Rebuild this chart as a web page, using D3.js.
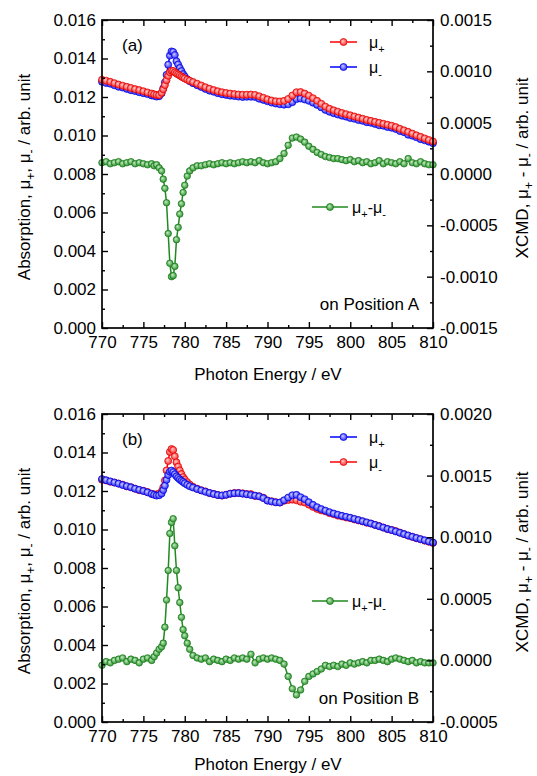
<!DOCTYPE html>
<html>
<head>
<meta charset="utf-8">
<script src="https://cdn.jsdelivr.net/npm/d3@7"></script>
<style>
  body { margin: 0; background: #fff; }
  text { font-family: Arial, "Liberation Sans", sans-serif; }
</style>
</head>
<body>
<div id="chart"></div>
<script>
// photon energy (eV), shared by both panels
var energy = [
  770, 770.5, 771, 771.5, 772, 772.5, 773, 773.5, 774, 774.5,
  775, 775.5, 776, 776.3, 776.6, 776.9, 777.2, 777.4, 777.6, 777.8,
  778, 778.2, 778.4, 778.6, 778.8, 779, 779.2, 779.4, 779.6, 779.8,
  780, 780.3, 780.6, 781, 781.5, 782, 782.5, 783, 783.5, 784,
  784.5, 785, 785.5, 786, 786.5, 787, 787.5, 788, 788.5, 789,
  789.5, 790, 790.5, 791, 791.5, 792, 792.5, 793, 793.5, 794,
  794.5, 795, 795.5, 796, 796.5, 797, 797.5, 798, 798.5, 799,
  799.5, 800, 800.5, 801, 801.5, 802, 802.5, 803, 803.5, 804,
  804.5, 805, 805.5, 806, 806.5, 807, 807.5, 808, 808.5, 809,
  809.5, 810
];

// panel (a) - position A
var muPlusA = [
  .01290, .01285, .01279, .01272, .01265, .01259, .01253, .01247, .01241, .01236,
  .01230, .01224, .01218, .01214, .01211, .01210, .01222, .01240, .01262, .01287,
  .01310, .01328, .01337, .01335, .01328, .01322, .01317, .01312, .01306, .01301,
  .01296, .01290, .01285, .01278, .01269, .01260, .01251, .01243, .01236, .01230,
  .01225, .01221, .01218, .01215, .01213, .01212, .01212, .01213, .01211, .01204,
  .01196, .01188, .01182, .01178, .01177, .01180, .01190, .01208, .01225, .01226,
  .01218, .01207, .01194, .01180, .01165, .01150, .01139, .01131, .01124, .01117,
  .01111, .01105, .01099, .01093, .01087, .01081, .01076, .01071, .01066, .01061,
  .01056, .01051, .01044, .01035, .01027, .01019, .01010, .01001, .00993, .00985,
  .00977, .00969
];
var muMinusA = [
  .01279, .01273, .01269, .01261, .01253, .01249, .01242, .01235, .01231, .01225,
  .01220, .01215, .01208, .01206, .01202, .01204, .01219, .01245, .01276, .01315,
  .01368, .01415, .01437, .01434, .01418, .01386, .01369, .01351, .01335, .01319,
  .01307, .01292, .01282, .01272, .01261, .01252, .01242, .01233, .01227, .01220,
  .01214, .01211, .01207, .01205, .01202, .01200, .01201, .01201, .01200, .01191,
  .01185, .01178, .01171, .01166, .01162, .01160, .01162, .01173, .01189, .01192,
  .01187, .01180, .01170, .01159, .01146, .01133, .01123, .01116, .01109, .01103,
  .01098, .01091, .01087, .01080, .01076, .01069, .01066, .01060, .01053, .01051,
  .01044, .01040, .01034, .01023, .01017, .01004, .00999, .00991, .00981, .00975,
  .00968, .00960
];
var xmcdA = [
  .00011, .00012, .00010, .00011, .00012, .00010, .00011, .00012, .00010, .00011,
  .00010, .00009, .00010, .00008, .00009, .00006, .00003, -.00005, -.00014, -.00028,
  -.00058, -.00087, -.00100, -.00099, -.00090, -.00064, -.00052, -.00039, -.00029, -.00018,
  -.00011, -.00002, .00003, .00006, .00008, .00008, .00009, .00010, .00009, .00010,
  .00011, .00010, .00011, .00010, .00011, .00012, .00011, .00012, .00011, .00013,
  .00011, .00010, .00011, .00012, .00015, .00020, .00028, .00035, .00036, .00034,
  .00031, .00027, .00024, .00021, .00019, .00017, .00016, .00015, .00015, .00014,
  .00013, .00014, .00012, .00013, .00011, .00012, .00010, .00011, .00013, .00010,
  .00012, .00011, .00010, .00012, .00010, .00015, .00011, .00010, .00012, .00010,
  .00009, .00009
];

// panel (b) - position B
var muPlusB = [
  .01262, .01256, .01250, .01244, .01238, .01231, .01225, .01219, .01212, .01206,
  .01200, .01193, .01185, .01180, .01176, .01178, .01187, .01205, .01228, .01258,
  .01283, .01300, .01306, .01298, .01287, .01276, .01268, .01260, .01253, .01247,
  .01240, .01232, .01225, .01218, .01210, .01203, .01196, .01190, .01184, .01179,
  .01177, .01180, .01186, .01188, .01189, .01186, .01183, .01179, .01176, .01172,
  .01163, .01150, .01145, .01141, .01140, .01152, .01166, .01178, .01180, .01168,
  .01157, .01142, .01128, .01116, .01106, .01098, .01090, .01083, .01077, .01071,
  .01066, .01061, .01055, .01049, .01043, .01037, .01031, .01024, .01017, .01010,
  .01003, .00997, .00990, .00983, .00976, .00969, .00962, .00956, .00950, .00944,
  .00938, .00932
];
var muMinusB = [
  .01258, .01255, .01248, .01244, .01239, .01233, .01224, .01220, .01212, .01204,
  .01201, .01195, .01185, .01183, .01182, .01187, .01198, .01219, .01255, .01307,
  .01356, .01403, .01418, .01413, .01380, .01349, .01327, .01307, .01288, .01272,
  .01260, .01246, .01234, .01222, .01212, .01204, .01198, .01189, .01185, .01179,
  .01176, .01181, .01186, .01190, .01190, .01188, .01184, .01184, .01174, .01173,
  .01165, .01151, .01147, .01142, .01140, .01149, .01153, .01155, .01152, .01144,
  .01140, .01129, .01117, .01107, .01099, .01094, .01085, .01079, .01072, .01068,
  .01062, .01059, .01052, .01047, .01042, .01035, .01031, .01024, .01018, .01010,
  .01002, .00998, .00992, .00984, .00976, .00968, .00962, .00954, .00949, .00942,
  .00936, .00930
];
var xmcdB = [
  -.00004, -.00001, -.00002, .00000, .00001, .00002, -.00001, .00001, .00000, -.00002,
  .00001, .00002, .00000, .00003, .00006, .00009, .00011, .00014, .00027, .00049,
  .00073, .00103, .00112, .00115, .00093, .00073, .00059, .00047, .00035, .00025,
  .00020, .00014, .00009, .00004, .00002, .00001, .00002, -.00001, .00001, .00000,
  -.00001, .00001, .00000, .00002, .00001, .00002, .00001, .00005, -.00002, .00001,
  .00002, .00001, .00002, .00001, .00000, -.00003, -.00013, -.00023, -.00028, -.00024,
  -.00017, -.00013, -.00011, -.00009, -.00007, -.00004, -.00005, -.00004, -.00005, -.00003,
  -.00004, -.00002, -.00003, -.00002, -.00001, -.00002, .00000, .00000, .00001, .00000,
  -.00001, .00001, .00002, .00001, .00000, -.00001, .00000, -.00002, -.00001, -.00002,
  -.00002, -.00002
];

// ticks
var xTicks = [770, 775, 780, 785, 790, 795, 800, 805, 810];
var xMinor = [772.5, 777.5, 782.5, 787.5, 792.5, 797.5, 802.5, 807.5];
var absTicks = [0, 0.002, 0.004, 0.006, 0.008, 0.010, 0.012, 0.014, 0.016];
var absMinor = [0.001, 0.003, 0.005, 0.007, 0.009, 0.011, 0.013, 0.015];
var xmcdTicksA = [-0.0015, -0.001, -0.0005, 0, 0.0005, 0.001, 0.0015];
var xmcdMinorA = [-0.00125, -0.00075, -0.00025, 0.00025, 0.00075, 0.00125];
var xmcdTicksB = [-0.0005, 0, 0.0005, 0.001, 0.0015, 0.002];
var xmcdMinorB = [-0.00025, 0.00025, 0.00075, 0.00125, 0.00175];

var FONT = "Arial, 'Liberation Sans', sans-serif";
var RED = "#ff0000", BLUE = "#0000ff", GREEN = "#1f8a1f";

var svg = d3.select("#chart").append("svg")
    .attr("width", 537)
    .attr("height", 776);

// shiny ball markers
var defs = svg.append("defs");
function ball(id, light, base) {
  var gr = defs.append("radialGradient").attr("id", id)
      .attr("cx", "50%").attr("cy", "50%").attr("r", "55%")
      .attr("fx", "38%").attr("fy", "35%");
  gr.append("stop").attr("offset", "0%").attr("stop-color", light);
  gr.append("stop").attr("offset", "100%").attr("stop-color", base);
}
ball("gRed", "#ffd0d0", "#ff2020");
ball("gBlue", "#d0d0ff", "#2020ff");
ball("gGreen", "#c8f0c8", "#228b22");
var fills = {};
fills[RED] = "url(#gRed)"; fills[BLUE] = "url(#gBlue)"; fills[GREEN] = "url(#gGreen)";

var x = d3.scaleLinear().domain([770, 810]).range([102, 433]);

// write text with subscripts, parts = [[text, isSub], ...]
function rich(t, parts, subSize) {
  var shifted = false;
  parts.forEach(function(p) {
    var ts = t.append("tspan").text(p[0]);
    if (p[1] && !shifted) { ts.attr("dy", 5).attr("font-size", subSize); shifted = true; }
    else if (p[1]) { ts.attr("font-size", subSize); }
    else if (shifted) { ts.attr("dy", -5); shifted = false; }
  });
}

function series(g, vals, y, color, r) {
  var pts = d3.zip(energy, vals);
  g.append("path")
      .datum(pts)
      .attr("fill", "none")
      .attr("stroke", color)
      .attr("stroke-width", 1.5)
      .attr("d", d3.line().x(function(d) { return x(d[0]); }).y(function(d) { return y(d[1]); }));
  g.selectAll(null)
      .data(pts)
    .enter().append("circle")
      .attr("cx", function(d) { return x(d[0]); })
      .attr("cy", function(d) { return y(d[1]); })
      .attr("r", r)
      .attr("fill", fills[color])
      .attr("stroke", d3.color(color).darker(0.4))
      .attr("stroke-width", 0.7);
}

function legendItem(g, x1, x2, y, color, parts) {
  g.append("line").attr("x1", x1).attr("x2", x2).attr("y1", y).attr("y2", y)
      .attr("stroke", color).attr("stroke-width", 1.5);
  g.append("circle").attr("cx", (x1 + x2) / 2).attr("cy", y).attr("r", 3.5)
      .attr("fill", fills[color]).attr("stroke", d3.color(color).darker(0.4)).attr("stroke-width", 0.7);
  var t = g.append("text").attr("x", x2 + 12).attr("y", y + 6).attr("font-size", 16);
  rich(t, parts, 11);
}

function styleAxis(a) {
  a.attr("font-size", 17).attr("font-family", FONT);
  a.select(".domain").remove();
  a.selectAll(".tick line").attr("stroke-width", 1.4);
}

function panel(p) {
  var yL = d3.scaleLinear().domain([0, 0.016]).range([p.bottom, p.top]);
  var yR = d3.scaleLinear().domain(p.rDomain).range([p.bottom, p.top]);
  var g = svg.append("g");

  // data: mu- under, mu+ on top, then xmcd
  series(g, p.minus, yL, p.minusColor, 3.5);
  series(g, p.plus, yL, p.plusColor, 3.5);
  series(g, p.xmcd, yR, GREEN, 3.3);

  // axes, ticks pointing inward
  var b = g.append("g").attr("transform", "translate(0," + p.bottom + ")")
      .call(d3.axisBottom(x).tickValues(xTicks).tickSizeInner(-6).tickSizeOuter(0).tickPadding(8).tickFormat(d3.format("d")));
  styleAxis(b);
  styleAxis(g.append("g").attr("transform", "translate(0," + p.bottom + ")")
      .call(d3.axisBottom(x).tickValues(xMinor).tickSizeInner(-3).tickSizeOuter(0).tickFormat("")));
  styleAxis(g.append("g").attr("transform", "translate(0," + p.top + ")")
      .call(d3.axisTop(x).tickValues(xTicks).tickSizeInner(-6).tickSizeOuter(0).tickFormat("")));
  styleAxis(g.append("g").attr("transform", "translate(0," + p.top + ")")
      .call(d3.axisTop(x).tickValues(xMinor).tickSizeInner(-3).tickSizeOuter(0).tickFormat("")));

  styleAxis(g.append("g").attr("transform", "translate(102,0)")
      .call(d3.axisLeft(yL).tickValues(absTicks).tickSizeInner(-6).tickSizeOuter(0).tickPadding(6)
        .tickFormat(function(d) { return d.toFixed(3); })));
  styleAxis(g.append("g").attr("transform", "translate(102,0)")
      .call(d3.axisLeft(yL).tickValues(absMinor).tickSizeInner(-3).tickSizeOuter(0).tickFormat("")));

  styleAxis(g.append("g").attr("transform", "translate(433,0)")
      .call(d3.axisRight(yR).tickValues(p.rTicks).tickSizeInner(-6).tickSizeOuter(0).tickPadding(7)
        .tickFormat(function(d) { return d.toFixed(4); })));
  styleAxis(g.append("g").attr("transform", "translate(433,0)")
      .call(d3.axisRight(yR).tickValues(p.rMinor).tickSizeInner(-3).tickSizeOuter(0).tickFormat("")));

  g.append("rect")
      .attr("x", 102).attr("y", p.top)
      .attr("width", 331).attr("height", p.bottom - p.top)
      .attr("fill", "none").attr("stroke", "#000").attr("stroke-width", 1.7);

  // titles
  g.append("text").attr("x", 268).attr("y", p.bottom + p.titleGap)
      .attr("text-anchor", "middle").attr("font-size", 17)
      .text("Photon Energy / eV");
  var mid = (p.top + p.bottom) / 2;
  var tl = g.append("text").attr("transform", "translate(30," + (mid + 3) + ") rotate(-90)")
      .attr("text-anchor", "middle").attr("font-size", 17);
  rich(tl, [["Absorption, \u03bc", 0], ["+", 1], [", \u03bc", 0], ["-", 1], [" / arb. unit", 0]], 12);
  var tr = g.append("text").attr("transform", "translate(528," + (mid - 6) + ") rotate(-90)")
      .attr("text-anchor", "middle").attr("font-size", 17);
  rich(tr, [["XCMD, \u03bc", 0], ["+", 1], [" - \u03bc", 0], ["-", 1], [" / arb. unit", 0]], 12);

  g.append("text").attr("x", 122).attr("y", p.top + 31).attr("font-size", 17).text(p.label);
  g.append("text").attr("x", 419).attr("y", p.bottom - 18)
      .attr("text-anchor", "end").attr("font-size", 17).text(p.position);

  // legend
  legendItem(g, 330, 357, p.top + p.leg1, p.legColors[0], [["\u03bc", 0], ["+", 1]]);
  legendItem(g, 330, 357, p.top + p.leg2, p.legColors[1], [["\u03bc", 0], ["-", 1]]);
  var lg = g.append("g");
  lg.append("line").attr("x1", 312).attr("x2", 348).attr("y1", p.top + p.leg3).attr("y2", p.top + p.leg3)
      .attr("stroke", GREEN).attr("stroke-width", 1.5);
  lg.append("circle").attr("cx", 330).attr("cy", p.top + p.leg3).attr("r", 3.5)
      .attr("fill", fills[GREEN]).attr("stroke", d3.color(GREEN).darker(0.4)).attr("stroke-width", 0.7);
  var t3 = lg.append("text").attr("x", 352).attr("y", p.top + p.leg3 + 6).attr("font-size", 16);
  rich(t3, [["\u03bc", 0], ["+", 1], ["-\u03bc", 0], ["-", 1]], 11);
}

panel({
  top: 20, bottom: 328, titleGap: 52,
  plus: muPlusA, minus: muMinusA, xmcd: xmcdA,
  plusColor: RED, minusColor: BLUE,
  rDomain: [-0.0015, 0.0015], rTicks: xmcdTicksA, rMinor: xmcdMinorA,
  label: "(a)", position: "on Position A",
  legColors: [RED, BLUE], leg1: 22, leg2: 47, leg3: 187
});

panel({
  top: 414, bottom: 722, titleGap: 48,
  plus: muPlusB, minus: muMinusB, xmcd: xmcdB,
  plusColor: BLUE, minusColor: RED,
  rDomain: [-0.0005, 0.002], rTicks: xmcdTicksB, rMinor: xmcdMinorB,
  label: "(b)", position: "on Position B",
  legColors: [BLUE, RED], leg1: 23, leg2: 48, leg3: 187
});
</script>
</body>
</html>
